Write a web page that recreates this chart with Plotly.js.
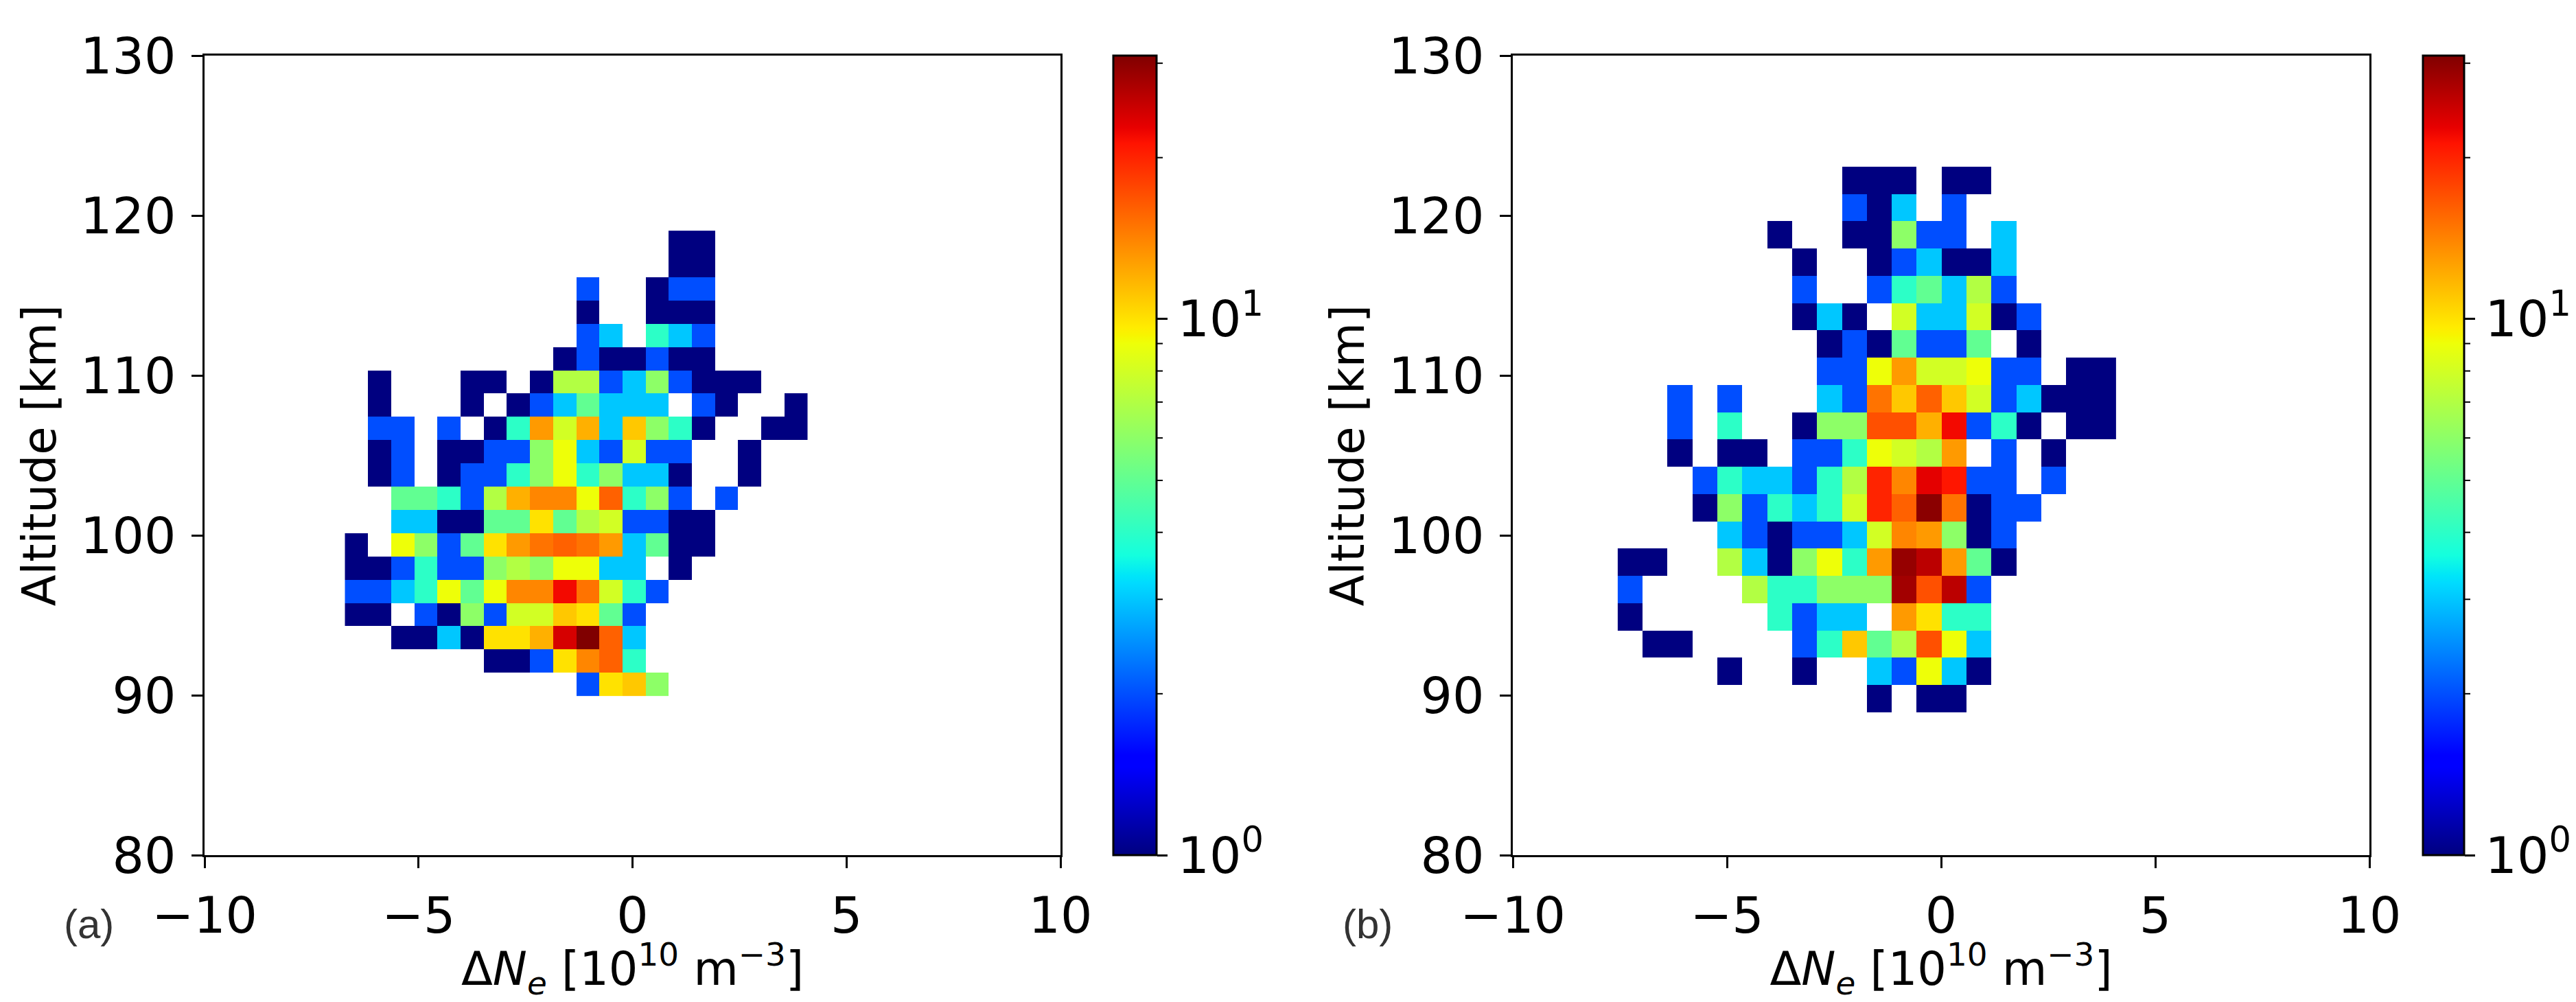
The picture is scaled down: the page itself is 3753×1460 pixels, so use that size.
<!DOCTYPE html>
<html>
<head>
<meta charset="utf-8">
<script src="https://cdn.plot.ly/plotly-3.0.1.min.js"></script>
<style>html,body{margin:0;padding:0;background:#fff}</style>
</head>
<body>
<div id="chart" style="width:3753px;height:1460px"></div>
<script>
// Counts per bin. Rows run from the top row down; 0 = empty bin.
const countsA = [
 [0,0,0,0,0,0,0,0,0,0,0,0,0,0,1,1,0,0,0,0],
 [0,0,0,0,0,0,0,0,0,0,0,0,0,0,1,1,0,0,0,0],
 [0,0,0,0,0,0,0,0,0,0,2,0,0,1,2,2,0,0,0,0],
 [0,0,0,0,0,0,0,0,0,0,1,0,0,1,1,1,0,0,0,0],
 [0,0,0,0,0,0,0,0,0,0,2,3,0,4,3,2,0,0,0,0],
 [0,0,0,0,0,0,0,0,0,1,2,1,1,2,1,1,0,0,0,0],
 [0,1,0,0,0,1,1,0,1,7,7,2,3,6,2,1,1,1,0,0],
 [0,1,0,0,0,1,0,1,2,3,5,3,3,3,0,2,1,0,0,1],
 [0,2,2,0,2,0,1,4,13,8,12,3,11,6,4,1,0,0,1,1],
 [0,1,2,0,1,1,2,2,6,9,3,2,8,2,2,0,0,1,0,0],
 [0,1,2,0,1,2,2,4,6,9,4,6,3,3,1,0,0,1,0,0],
 [0,0,5,5,4,2,7,12,14,14,9,16,4,6,2,0,2,0,0,0],
 [0,0,3,3,1,1,5,5,10,5,7,8,2,2,1,1,0,0,0,0],
 [1,0,9,6,2,5,10,13,15,16,15,13,3,5,1,1,0,0,0,0],
 [1,1,2,4,2,2,6,7,6,9,9,3,3,0,1,0,0,0,0,0],
 [2,2,3,4,9,5,9,14,14,22,15,8,4,2,0,0,0,0,0,0],
 [1,1,0,2,1,6,2,8,8,11,10,5,2,0,0,0,0,0,0,0],
 [0,0,1,1,3,1,10,10,12,24,31,16,3,0,0,0,0,0,0,0],
 [0,0,0,0,0,0,1,1,2,10,14,16,4,0,0,0,0,0,0,0],
 [0,0,0,0,0,0,0,0,0,0,2,10,11,6,0,0,0,0,0,0]
];
const countsB = [
 [0,0,0,0,0,0,0,0,0,1,1,1,0,1,1,0,0,0,0,0],
 [0,0,0,0,0,0,0,0,0,2,1,3,0,2,0,0,0,0,0,0],
 [0,0,0,0,0,0,1,0,0,1,1,6,2,2,0,3,0,0,0,0],
 [0,0,0,0,0,0,0,1,0,0,1,2,3,1,1,3,0,0,0,0],
 [0,0,0,0,0,0,0,2,0,0,2,4,5,3,7,2,0,0,0,0],
 [0,0,0,0,0,0,0,1,3,1,0,8,3,3,8,1,2,0,0,0],
 [0,0,0,0,0,0,0,0,1,2,1,5,2,2,5,0,1,0,0,0],
 [0,0,0,0,0,0,0,0,2,2,9,13,8,8,9,2,2,0,1,1],
 [0,0,2,0,2,0,0,0,3,2,15,11,16,11,8,2,3,1,1,1],
 [0,0,2,0,4,0,0,1,6,6,17,17,12,22,2,4,1,0,1,1],
 [0,0,1,0,1,1,0,2,2,4,9,8,7,13,0,2,0,1,0,0],
 [0,0,0,2,4,3,3,2,4,7,20,14,23,21,2,2,0,2,0,0],
 [0,0,0,1,6,2,4,3,4,8,20,16,30,15,1,2,2,0,0,0],
 [0,0,0,0,3,2,1,2,2,3,8,14,13,6,1,2,0,0,0,0],
 [1,1,0,0,7,3,1,6,9,4,13,29,26,13,5,1,0,0,0,0],
 [2,0,0,0,0,7,4,4,6,6,6,28,17,26,2,0,0,0,0,0],
 [1,0,0,0,0,0,4,2,3,3,0,13,10,4,4,0,0,0,0,0],
 [0,1,1,0,0,0,0,2,4,11,5,7,17,9,3,0,0,0,0,0],
 [0,0,0,0,1,0,0,1,0,0,3,2,9,3,1,0,0,0,0,0],
 [0,0,0,0,0,0,0,0,0,0,1,0,1,1,0,0,0,0,0,0]
];
// Bin geometry (lowest edge and bin width, in data units)
const binA = {xLeft:-6.72, dx:0.5405, yBottom:89.97, dy:1.454};
const binB = {xLeft:-7.55, dx:0.582,  yBottom:88.93, dy:1.706};

const xTicks = [-10,-5,0,5,10];
const xTickLabels = ['\u221210','\u22125','0','5','10'];
const yTicks = [80,90,100,110,120,130];
const cbarMajor = [1,10];
const cbarMajorLabels = ['10<sup>0</sup>','10<sup>1</sup>'];
const cbarMinor = [2,3,4,5,6,7,8,9,20,30];
const vMax = 31;

const xTitle = '\u0394<i>N</i><sub><i>e</i></sub> [10<sup>10</sup> m<sup>\u22123</sup>]';
const yTitle = 'Altitude [km]';

const W = 3753, H = 1460;
const jet = [
 [0,'rgb(0,0,128)'],[0.11,'rgb(0,0,255)'],[0.125,'rgb(0,0,255)'],[0.34,'rgb(0,219,255)'],
 [0.35,'rgb(0,230,248)'],[0.375,'rgb(20,255,222)'],[0.64,'rgb(238,255,8)'],[0.65,'rgb(247,245,0)'],
 [0.66,'rgb(255,236,0)'],[0.89,'rgb(255,19,0)'],[0.91,'rgb(232,0,0)'],[1,'rgb(128,0,0)']
];
const font = 'DejaVu Sans, sans-serif';
const tickSize = 73;

// pixel boxes of the panels
const boxA = {l:298, r:1545, t:81, b:1246, cl:1622, cr:1685};
const boxB = {l:2204, r:3452, t:81, b:1246, cl:3530, cr:3590};
const cbT = 81, cbB = 1246;

function toZ(rows){
  return rows.slice().reverse().map(r => r.map(v => v > 0 ? Math.log10(v) : null));
}
function heat(rows, bin, xa, ya, box){
  return {
    type:'heatmap', xaxis:xa, yaxis:ya, z:toZ(rows),
    x0:bin.xLeft + bin.dx/2, dx:bin.dx, y0:bin.yBottom + bin.dy/2, dy:bin.dy,
    zmin:0, zmax:Math.log10(vMax), colorscale:jet, zsmooth:false, hoverongaps:false,
    colorbar:{
      x:box.cl/W, xanchor:'left', xpad:0, ypad:0,
      y:1-cbB/H, yanchor:'bottom', len:(cbB-cbT)/H, lenmode:'fraction',
      thickness:box.cr-box.cl, thicknessmode:'pixels',
      outlinecolor:'#000', outlinewidth:3,
      tickmode:'array', tickvals:cbarMajor.map(Math.log10), ticktext:cbarMajorLabels,
      ticks:'outside', ticklen:15, tickwidth:3, tickcolor:'#000',
      tickfont:{family:font,size:tickSize,color:'#000'}
    }
  };
}
function xAxis(box, anchor){
  return {
    domain:[box.l/W, box.r/W], anchor:anchor, range:[-10,10],
    tickmode:'array', tickvals:xTicks, ticktext:xTickLabels,
    ticks:'outside', ticklen:16, tickwidth:3, tickcolor:'#000',
    tickfont:{family:font,size:tickSize,color:'#000'}, ticklabelstandoff:6,
    showline:true, linecolor:'#000', linewidth:3, mirror:true, showgrid:false, zeroline:false,
    title:{text:xTitle, font:{family:font,size:tickSize-6,color:'#000'}, standoff:8}
  };
}
function yAxis(box, anchor){
  return {
    domain:[1-box.b/H, 1-box.t/H], anchor:anchor, range:[80,130],
    tickmode:'array', tickvals:yTicks,
    ticks:'outside', ticklen:16, tickwidth:3, tickcolor:'#000',
    tickfont:{family:font,size:tickSize,color:'#000'}, ticklabelstandoff:8,
    showline:true, linecolor:'#000', linewidth:3, mirror:true, showgrid:false, zeroline:false,
    title:{text:yTitle, font:{family:font,size:tickSize-6,color:'#000'}, standoff:14}
  };
}
// short colorbar ticks for the minor decades, placed on the colour scale
const shapes = [];
[boxA, boxB].forEach(box => cbarMinor.forEach(v => {
  const py = cbB - (cbB-cbT)*Math.log10(v)/Math.log10(vMax);
  shapes.push({type:'line', xref:'paper', yref:'paper',
    x0:box.cr/W, x1:(box.cr+9)/W, y0:1-py/H, y1:1-py/H,
    line:{color:'#000', width:2}});
}));

const layout = {
  width:W, height:H, margin:{l:0,r:0,t:0,b:0,pad:0}, autosize:false,
  paper_bgcolor:'#fff', plot_bgcolor:'#fff', showlegend:false,
  xaxis:xAxis(boxA,'y'), yaxis:yAxis(boxA,'x'),
  xaxis2:xAxis(boxB,'y2'), yaxis2:yAxis(boxB,'x2'),
  shapes:shapes,
  annotations:[
    {text:'(a)', xref:'paper', yref:'paper', x:91/W, y:1-1382/H, showarrow:false,
     font:{family:'Liberation Sans, sans-serif', size:60, color:'#333'}},
    {text:'(b)', xref:'paper', yref:'paper', x:1992/W, y:1-1382/H, showarrow:false,
     font:{family:'Liberation Sans, sans-serif', size:60, color:'#333'}}
  ]
};
Plotly.newPlot('chart', [heat(countsA,binA,'x','y',boxA), heat(countsB,binB,'x2','y2',boxB)], layout, {displayModeBar:false, staticPlot:true});
</script>
</body>
</html>
